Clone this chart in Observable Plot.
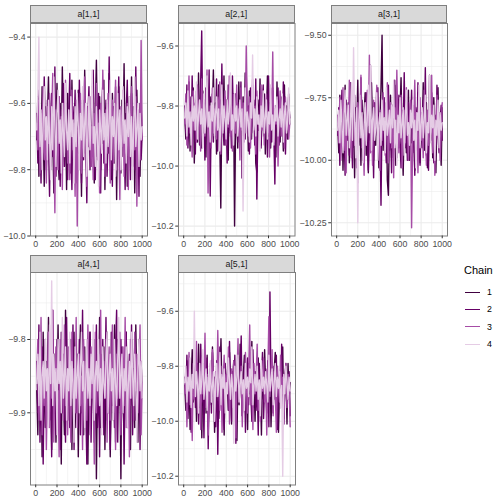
<!DOCTYPE html>
<html>
<head>
<meta charset="utf-8">
<script src="https://cdn.jsdelivr.net/npm/d3@7"></script>
<script src="https://cdn.jsdelivr.net/npm/@observablehq/plot@0.6"></script>
<style>
  body { margin: 0; background: #fff; }
  #chart { position: relative; width: 504px; height: 504px; background: #fff; overflow: hidden;
           font-family: "Liberation Sans", Arial, Helvetica, sans-serif; }
  #chart svg { position: absolute; max-width: none; }
  .strip { position: absolute; box-sizing: border-box; background: #d9d9d9; border: 1px solid #7f7f7f;
           color: #1a1a1a; font-size: 8.8px; text-align: center; }
  .legend-title { position: absolute; font-size: 11px; color: #000; }
  .legend-item { position: absolute; font-size: 8.8px; color: #000; display: flex; align-items: center; }
</style>
</head>
<body>
<div id="chart"></div>
<script>
// Posterior draws, thinned to every 10th iteration, for each parameter and chain.
const iterStep = 10;
const chainNames = ["1", "2", "3", "4"];
const chainColors = ["#400040", "#660066", "#a64ca6", "#e5cce5"];

const a11_chain1 = [-9.71,-9.58,-9.82,-9.66,-9.74,-9.55,-9.69,-9.85,-9.61,-9.77,-9.64,-9.52,-9.73,-9.80,-9.59,-9.70,-9.87,-9.62,-9.68,-9.54,-9.76,-9.83,-9.60,-9.72,-9.49,-9.67,-9.79,-9.63,-9.86,-9.57,-9.74,-9.65,-9.81,-9.53,-9.70,-9.78,-9.60,-9.69,-9.84,-9.56,-9.72,-9.63,-9.88,-9.59,-9.75,-9.50,-9.68,-9.82,-9.61,-9.73,-9.66,-9.79,-9.55,-9.71,-9.84,-9.62,-9.47,-9.69,-9.77,-9.58,-9.80,-9.64,-9.72,-9.53,-9.86,-9.67,-9.60,-9.75,-9.51,-9.70,-9.83,-9.57,-9.68,-9.78,-9.62,-9.89,-9.65,-9.55,-9.74,-9.81,-9.59,-9.70,-9.48,-9.76,-9.63,-9.85,-9.66,-9.58,-9.73,-9.52,-9.79,-9.61,-9.87,-9.69,-9.56,-9.74,-9.64,-9.82,-9.60,-9.71];
const a11_chain2 = [-9.63,-9.78,-9.56,-9.70,-9.84,-9.61,-9.75,-9.52,-9.67,-9.80,-9.59,-9.72,-9.88,-9.64,-9.57,-9.76,-9.69,-9.49,-9.82,-9.66,-9.73,-9.58,-9.85,-9.62,-9.71,-9.54,-9.79,-9.68,-9.60,-9.83,-9.65,-9.51,-9.74,-9.86,-9.61,-9.70,-9.56,-9.81,-9.67,-9.75,-9.53,-9.69,-9.84,-9.62,-9.77,-9.58,-9.72,-9.90,-9.64,-9.55,-9.80,-9.66,-9.73,-9.50,-9.69,-9.83,-9.60,-9.76,-9.57,-9.71,-9.87,-9.63,-9.54,-9.78,-9.68,-9.59,-9.82,-9.70,-9.46,-9.74,-9.65,-9.85,-9.61,-9.72,-9.55,-9.79,-9.67,-9.52,-9.81,-9.63,-9.76,-9.58,-9.70,-9.86,-9.62,-9.53,-9.75,-9.68,-9.83,-9.57,-9.71,-9.64,-9.80,-9.49,-9.73,-9.66,-9.88,-9.60,-9.77,-9.69];
const a11_chain3 = [-9.66,-9.74,-9.59,-9.81,-9.63,-9.70,-9.55,-9.77,-9.68,-9.84,-9.61,-9.72,-9.57,-9.79,-9.65,-9.51,-9.73,-9.93,-9.62,-9.69,-9.80,-9.58,-9.71,-9.64,-9.86,-9.60,-9.75,-9.53,-9.67,-9.78,-9.62,-9.83,-9.70,-9.56,-9.74,-9.66,-9.88,-9.59,-9.97,-9.68,-9.72,-9.57,-9.81,-9.64,-9.76,-9.52,-9.69,-9.85,-9.61,-9.73,-9.58,-9.79,-9.67,-9.83,-9.63,-9.71,-9.54,-9.77,-9.66,-9.87,-9.60,-9.74,-9.50,-9.69,-9.82,-9.62,-9.75,-9.57,-9.70,-9.84,-9.65,-9.59,-9.78,-9.68,-9.53,-9.80,-9.64,-9.72,-9.89,-9.61,-9.73,-9.56,-9.82,-9.67,-9.75,-9.60,-9.86,-9.63,-9.70,-9.55,-9.79,-9.66,-9.74,-9.58,-9.91,-9.68,-9.62,-9.77,-9.41,-9.71];
const a11_chain4 = [-9.68,-9.57,-9.40,-9.73,-9.62,-9.80,-9.66,-9.55,-9.71,-9.64,-9.77,-9.59,-9.70,-9.83,-9.61,-9.74,-9.52,-9.67,-9.79,-9.63,-9.56,-9.72,-9.65,-9.81,-9.60,-9.69,-9.76,-9.54,-9.68,-9.74,-9.62,-9.78,-9.58,-9.70,-9.65,-9.84,-9.61,-9.73,-9.57,-9.67,-9.80,-9.63,-9.71,-9.55,-9.76,-9.66,-9.60,-9.82,-9.69,-9.58,-9.74,-9.64,-9.50,-9.72,-9.67,-9.79,-9.61,-9.70,-9.85,-9.62,-9.68,-9.75,-9.56,-9.71,-9.63,-9.78,-9.59,-9.73,-9.66,-9.53,-9.77,-9.64,-9.70,-9.60,-9.82,-9.67,-9.57,-9.74,-9.62,-9.80,-9.69,-9.55,-9.72,-9.65,-9.78,-9.61,-9.70,-9.58,-9.76,-9.64,-9.83,-9.66,-9.52,-9.73,-9.68,-9.60,-9.79,-9.63,-9.71,-9.67];

const a21_chain1 = [-9.83,-9.91,-9.76,-9.88,-9.72,-9.95,-9.81,-9.87,-9.74,-9.99,-9.85,-9.78,-9.92,-9.69,-9.86,-9.80,-9.94,-9.75,-9.89,-9.83,-9.97,-9.71,-9.84,-9.90,-9.77,-9.93,-9.82,-9.68,-9.88,-9.79,-9.96,-9.84,-9.73,-9.91,-10.14,-9.81,-9.87,-9.70,-9.93,-9.78,-9.86,-9.98,-9.74,-9.89,-9.82,-9.92,-9.76,-10.20,-9.85,-9.79,-9.94,-9.72,-9.88,-9.83,-9.97,-9.77,-9.90,-9.69,-9.86,-9.81,-9.95,-9.75,-9.84,-9.91,-9.73,-9.87,-9.80,-9.99,-10.02,-9.78,-9.88,-9.71,-9.93,-9.82,-9.86,-9.76,-9.96,-9.84,-9.70,-9.90,-9.79,-9.94,-9.83,-9.74,-9.89,-9.81,-9.97,-9.72,-9.87,-9.85,-9.92,-9.77,-9.84,-9.95,-9.73,-9.88,-9.80,-9.91,-9.76,-9.86];
const a21_chain2 = [-9.80,-9.89,-9.73,-9.94,-9.84,-9.77,-9.91,-9.70,-9.86,-9.82,-9.96,-9.75,-9.88,-9.81,-9.93,-9.72,-9.55,-9.87,-9.79,-9.98,-9.74,-9.85,-9.90,-9.68,-10.10,-9.83,-9.76,-9.92,-9.80,-9.87,-9.71,-9.95,-9.84,-9.78,-9.89,-9.66,-9.86,-9.93,-9.77,-9.82,-9.99,-9.73,-9.88,-9.81,-9.94,-9.70,-9.85,-9.90,-9.76,-9.83,-9.92,-9.79,-9.87,-9.72,-10.04,-9.84,-9.77,-9.91,-9.69,-9.86,-9.80,-9.96,-9.74,-9.89,-9.83,-9.78,-9.93,-9.71,-10.11,-9.85,-9.88,-9.76,-9.94,-9.81,-9.73,-9.90,-9.84,-9.79,-9.97,-9.70,-9.86,-9.82,-9.92,-9.75,-9.89,-10.06,-9.80,-9.87,-9.74,-9.93,-9.83,-9.78,-9.90,-9.72,-9.85,-9.96,-9.81,-9.88,-9.77,-9.84];
const a21_chain3 = [-9.86,-9.76,-9.93,-9.81,-9.70,-9.89,-9.84,-9.97,-9.75,-9.88,-9.79,-9.92,-9.73,-9.85,-9.82,-9.95,-9.71,-9.87,-9.78,-9.90,-9.83,-9.68,-10.09,-9.86,-9.80,-9.94,-9.74,-9.89,-9.81,-9.85,-9.91,-9.77,-9.84,-9.72,-9.96,-9.79,-9.88,-9.83,-9.75,-9.93,-9.82,-9.87,-9.70,-9.90,-9.80,-9.95,-9.76,-9.84,-9.89,-9.73,-9.86,-9.81,-9.98,-9.74,-9.88,-9.79,-9.92,-9.85,-9.60,-9.83,-9.90,-9.77,-9.94,-9.82,-9.71,-9.87,-9.80,-9.96,-9.75,-9.86,-9.84,-9.91,-9.73,-9.88,-9.79,-9.93,-9.82,-9.76,-9.89,-9.85,-9.97,-9.74,-9.87,-9.62,-9.92,-9.81,-9.86,-9.78,-10.00,-9.83,-9.75,-9.90,-9.84,-9.80,-9.94,-9.77,-9.88,-9.82,-9.91,-9.86];
const a21_chain4 = [-9.84,-9.79,-9.90,-9.75,-9.87,-9.82,-9.93,-9.77,-9.85,-9.80,-9.88,-9.72,-9.91,-9.83,-9.78,-9.86,-9.81,-9.94,-9.76,-9.89,-9.84,-9.70,-9.87,-9.82,-9.92,-9.79,-9.85,-9.74,-9.90,-9.83,-9.77,-9.88,-9.81,-9.95,-9.86,-9.73,-9.89,-9.80,-9.84,-9.91,-9.78,-9.86,-9.82,-9.69,-9.88,-9.83,-9.93,-9.76,-9.85,-9.80,-9.90,-9.84,-9.78,-9.87,-9.81,-10.15,-9.86,-9.74,-9.89,-9.82,-9.85,-9.92,-9.79,-9.84,-9.63,-9.88,-9.81,-9.90,-9.77,-9.86,-9.83,-9.95,-9.80,-9.87,-9.75,-9.89,-9.84,-9.78,-9.91,-9.82,-9.86,-9.73,-9.88,-9.83,-9.93,-9.80,-9.85,-9.77,-9.90,-9.84,-9.81,-9.87,-9.76,-9.92,-9.83,-9.79,-9.89,-9.85,-9.74,-9.86];

const a31_chain1 = [-9.86,-9.97,-9.74,-9.91,-9.80,-10.04,-9.83,-9.70,-9.93,-9.88,-9.77,-10.01,-9.85,-9.72,-9.95,-9.82,-10.07,-9.79,-9.89,-9.68,-9.94,-9.84,-10.02,-9.76,-9.90,-9.81,-9.73,-9.98,-9.87,-10.05,-9.78,-9.92,-9.69,-9.85,-10.00,-9.80,-9.94,-9.75,-9.88,-10.03,-9.83,-9.71,-9.50,-9.96,-9.82,-9.90,-9.77,-10.08,-10.14,-9.86,-9.74,-9.99,-9.84,-9.92,-9.70,-10.02,-9.87,-9.79,-9.95,-9.81,-9.67,-9.91,-10.06,-9.83,-9.76,-9.97,-9.88,-9.72,-10.00,-9.85,-9.93,-9.78,-9.89,-10.04,-9.80,-9.95,-9.73,-9.86,-10.01,-9.82,-9.90,-9.69,-9.96,-9.84,-9.77,-10.03,-9.88,-9.66,-9.92,-9.81,-9.99,-9.75,-9.87,-10.05,-9.83,-9.71,-9.94,-9.86,-10.02,-9.79];
const a31_chain2 = [-9.90,-9.79,-10.02,-9.84,-9.72,-9.95,-9.87,-10.06,-9.76,-9.92,-9.83,-9.98,-9.69,-9.88,-10.03,-9.81,-9.74,-9.96,-9.85,-10.09,-9.78,-9.91,-9.67,-9.87,-10.00,-9.82,-9.94,-9.73,-9.89,-10.04,-9.80,-9.62,-9.93,-9.86,-10.07,-9.77,-9.90,-9.84,-9.71,-9.97,-9.88,-10.18,-9.81,-9.94,-9.75,-9.89,-10.01,-9.83,-9.70,-9.96,-9.85,-10.05,-9.78,-9.91,-9.68,-9.87,-9.99,-9.82,-9.74,-9.93,-10.03,-9.80,-9.88,-9.65,-9.95,-9.84,-10.00,-9.77,-9.90,-9.86,-9.72,-9.97,-9.83,-10.06,-9.79,-9.92,-9.69,-9.88,-10.02,-9.81,-9.95,-9.76,-9.89,-9.63,-9.98,-9.85,-10.04,-9.80,-9.91,-9.73,-9.87,-10.01,-9.82,-9.94,-9.70,-9.89,-9.97,-9.84,-9.78,-9.92];
const a31_chain3 = [-9.82,-9.93,-9.75,-10.00,-9.86,-9.71,-9.96,-9.84,-10.05,-9.78,-9.90,-9.68,-9.87,-9.99,-9.81,-9.74,-9.94,-9.85,-10.03,-9.77,-9.91,-9.83,-9.66,-9.95,-9.88,-10.06,-9.79,-9.92,-9.72,-9.86,-9.58,-9.97,-9.84,-10.02,-9.76,-9.89,-9.81,-9.70,-9.94,-9.87,-10.04,-9.80,-9.92,-9.73,-9.85,-9.98,-9.83,-9.69,-10.01,-9.88,-9.77,-9.95,-9.84,-10.07,-9.79,-9.90,-9.64,-9.86,-9.97,-9.82,-9.74,-10.03,-9.89,-9.80,-9.93,-9.71,-9.87,-10.00,-9.83,-9.76,-10.27,-9.91,-9.85,-9.68,-9.96,-9.81,-10.05,-9.88,-9.75,-9.92,-9.84,-9.99,-9.72,-9.87,-10.02,-9.80,-9.94,-9.78,-9.89,-9.66,-9.97,-9.83,-10.06,-9.86,-9.74,-9.91,-9.81,-10.00,-9.88,-9.77];
const a31_chain4 = [-9.88,-9.80,-9.93,-9.76,-9.86,-9.97,-9.82,-9.72,-9.90,-9.84,-9.78,-9.95,-9.87,-9.69,-9.92,-9.55,-9.83,-9.99,-9.79,-10.25,-9.85,-9.74,-9.91,-9.81,-10.01,-9.86,-9.77,-9.94,-9.83,-9.70,-9.89,-9.62,-9.96,-9.84,-9.79,-9.92,-9.87,-9.73,-10.00,-9.85,-9.81,-9.94,-9.76,-9.88,-9.83,-9.97,-9.71,-9.90,-9.86,-9.80,-9.93,-9.78,-9.87,-9.68,-9.95,-9.84,-10.02,-9.82,-9.89,-9.75,-9.91,-9.86,-9.79,-9.98,-9.83,-9.72,-9.90,-9.85,-9.94,-9.80,-9.87,-9.76,-9.92,-9.84,-10.03,-9.81,-9.88,-9.70,-9.95,-9.86,-9.79,-9.91,-9.83,-9.74,-9.97,-9.85,-9.89,-9.66,-9.93,-9.82,-9.87,-9.78,-10.00,-9.84,-9.90,-9.76,-9.95,-9.81,-9.88,-9.85];

const a41_chain1 = [-9.87,-9.93,-9.81,-9.90,-9.84,-9.96,-9.79,-9.88,-9.92,-9.83,-9.86,-9.77,-9.91,-9.85,-9.95,-9.80,-9.89,-9.82,-9.94,-9.87,-9.78,-9.90,-9.84,-9.97,-9.81,-9.88,-9.93,-9.76,-9.86,-9.91,-9.83,-9.89,-9.80,-9.95,-9.85,-9.79,-9.92,-9.87,-9.82,-9.96,-9.84,-9.78,-9.90,-9.86,-9.93,-9.81,-9.88,-9.83,-9.97,-9.85,-9.79,-9.91,-9.87,-9.82,-9.94,-9.80,-9.99,-9.86,-9.89,-9.77,-9.92,-9.84,-9.88,-9.81,-9.95,-9.85,-9.79,-9.90,-9.83,-9.96,-9.87,-9.82,-9.91,-9.78,-9.94,-9.86,-9.80,-9.89,-9.84,-9.99,-9.81,-9.88,-9.93,-9.85,-9.79,-9.91,-9.86,-9.83,-9.95,-9.80,-9.89,-9.84,-9.92,-9.78,-9.87,-9.94,-9.82,-9.90,-9.85,-9.88];
const a41_chain2 = [-9.83,-9.90,-9.78,-9.94,-9.86,-9.81,-9.97,-9.85,-9.80,-9.92,-9.87,-9.79,-9.91,-9.84,-9.96,-9.76,-9.89,-9.83,-9.93,-9.80,-9.88,-9.85,-9.95,-9.79,-9.90,-9.82,-9.86,-9.94,-9.77,-9.89,-9.84,-9.92,-9.81,-9.87,-9.78,-9.95,-9.85,-9.90,-9.83,-9.88,-9.80,-9.93,-9.86,-9.76,-9.91,-9.84,-9.89,-9.97,-9.82,-9.87,-9.79,-9.94,-9.85,-9.81,-9.90,-9.86,-9.78,-9.92,-9.84,-9.96,-9.82,-9.88,-9.80,-9.93,-9.87,-9.77,-9.91,-9.85,-9.83,-9.95,-9.79,-9.89,-9.86,-9.92,-9.81,-9.76,-9.94,-9.84,-9.88,-9.80,-9.90,-9.83,-9.97,-9.85,-9.79,-9.92,-9.87,-9.82,-9.89,-9.78,-9.93,-9.86,-9.81,-9.91,-9.84,-9.88,-9.80,-9.95,-9.83,-9.87];
const a41_chain3 = [-9.85,-9.80,-9.91,-9.87,-9.77,-9.93,-9.84,-9.89,-9.82,-9.95,-9.86,-9.79,-9.92,-9.83,-9.88,-9.76,-9.94,-9.85,-9.81,-9.90,-9.87,-9.96,-9.80,-9.86,-9.83,-9.91,-9.78,-9.89,-9.85,-9.93,-9.81,-9.87,-9.94,-9.79,-9.88,-9.84,-9.90,-9.77,-9.92,-9.86,-9.82,-9.89,-9.85,-9.95,-9.80,-9.87,-9.83,-9.91,-9.78,-9.86,-9.93,-9.81,-9.88,-9.84,-9.97,-9.79,-9.90,-9.85,-9.82,-9.89,-9.76,-9.92,-9.86,-9.83,-9.88,-9.80,-9.94,-9.85,-9.81,-9.91,-9.87,-9.78,-9.90,-9.84,-9.95,-9.82,-9.88,-9.86,-9.79,-9.93,-9.85,-9.81,-9.89,-9.77,-9.92,-9.86,-9.83,-9.96,-9.80,-9.88,-9.84,-9.91,-9.79,-9.87,-9.82,-9.90,-9.85,-9.78,-9.93,-9.86];
const a41_chain4 = [-9.86,-9.82,-9.89,-9.79,-9.91,-9.85,-9.83,-9.88,-9.80,-9.87,-9.84,-9.92,-9.78,-9.86,-9.72,-9.89,-9.82,-9.87,-9.84,-9.93,-9.80,-9.86,-9.83,-9.90,-9.77,-9.88,-9.85,-9.81,-9.91,-9.84,-9.87,-9.79,-9.89,-9.83,-9.86,-9.94,-9.81,-9.88,-9.85,-9.82,-9.90,-9.84,-9.79,-9.87,-9.83,-9.92,-9.86,-9.80,-9.88,-9.84,-9.89,-9.82,-9.86,-9.78,-9.91,-9.85,-9.83,-9.87,-9.80,-9.89,-9.84,-9.93,-9.81,-9.86,-9.88,-9.83,-9.79,-9.90,-9.85,-9.82,-9.87,-9.84,-9.91,-9.80,-9.86,-9.89,-9.83,-9.77,-9.88,-9.85,-9.82,-9.90,-9.84,-9.87,-9.81,-9.92,-9.86,-9.83,-9.88,-9.79,-9.85,-9.89,-9.82,-9.86,-9.94,-9.84,-9.80,-9.87,-9.83,-9.88];

const a51_chain1 = [-9.87,-9.96,-9.78,-9.91,-9.82,-10.03,-9.85,-9.74,-9.93,-9.89,-9.80,-10.00,-9.86,-9.72,-9.95,-9.83,-10.06,-9.79,-9.90,-9.84,-9.97,-9.76,-10.02,-9.88,-9.81,-9.94,-9.73,-9.87,-10.04,-9.82,-9.91,-9.77,-9.99,-9.85,-9.70,-9.92,-9.86,-10.05,-9.80,-9.89,-9.83,-9.96,-9.75,-9.90,-10.01,-9.84,-9.78,-9.93,-9.87,-10.07,-9.81,-9.94,-9.72,-9.88,-9.98,-9.83,-9.76,-9.91,-9.85,-10.03,-9.79,-9.90,-9.86,-9.71,-9.95,-9.84,-10.00,-9.82,-9.89,-9.77,-9.93,-9.87,-10.05,-9.80,-9.92,-9.74,-9.88,-9.97,-9.83,-9.90,-9.78,-10.02,-9.86,-9.93,-9.81,-9.75,-9.96,-9.85,-10.04,-9.88,-9.82,-9.91,-9.73,-9.99,-9.87,-9.84,-10.01,-9.79,-9.92,-9.86];
const a51_chain2 = [-9.84,-9.92,-9.76,-9.99,-9.87,-9.81,-10.04,-9.83,-9.90,-9.74,-9.95,-9.86,-9.79,-10.01,-9.88,-9.72,-9.93,-9.85,-10.06,-9.80,-9.89,-9.77,-10.10,-9.86,-9.82,-9.97,-9.75,-9.91,-9.84,-10.02,-9.78,-10.12,-9.87,-9.73,-9.94,-9.83,-9.90,-10.03,-9.79,-9.88,-9.85,-9.96,-9.71,-9.89,-10.00,-9.82,-9.93,-9.76,-10.08,-9.86,-9.80,-9.92,-9.84,-9.69,-9.98,-9.87,-9.81,-10.04,-9.85,-9.77,-9.94,-9.83,-9.90,-10.00,-9.74,-9.88,-9.82,-9.96,-9.86,-10.05,-9.79,-9.91,-9.84,-9.75,-9.99,-9.87,-9.81,-9.93,-9.78,-10.02,-9.53,-9.89,-9.85,-9.97,-9.80,-9.92,-9.76,-10.03,-9.86,-9.83,-9.95,-9.72,-9.88,-10.01,-9.84,-9.79,-9.94,-9.87,-9.82,-9.98];
const a51_chain3 = [-9.90,-9.81,-10.02,-9.86,-9.75,-9.94,-9.88,-10.07,-9.79,-9.92,-9.84,-9.71,-9.97,-9.87,-9.82,-10.03,-9.77,-9.90,-9.85,-9.68,-9.95,-9.83,-10.05,-9.88,-9.79,-9.93,-9.74,-9.86,-10.00,-9.82,-9.91,-9.67,-9.87,-9.96,-9.80,-10.04,-9.85,-9.76,-9.92,-9.83,-9.89,-9.73,-10.01,-9.86,-9.81,-9.95,-9.78,-9.88,-10.06,-9.84,-9.70,-9.93,-9.87,-9.80,-10.02,-9.85,-9.91,-9.75,-9.88,-9.97,-9.82,-9.65,-9.94,-9.86,-10.03,-9.79,-9.90,-9.84,-9.72,-9.96,-9.87,-10.00,-9.81,-9.89,-9.77,-9.93,-9.85,-10.05,-9.83,-9.62,-9.91,-9.86,-9.74,-9.98,-9.82,-9.89,-10.04,-9.80,-9.87,-9.93,-9.76,-9.90,-9.84,-10.01,-9.86,-9.79,-9.95,-9.83,-9.88,-10.02];
const a51_chain4 = [-9.86,-9.80,-9.93,-9.84,-9.89,-9.77,-9.95,-9.83,-9.88,-9.60,-9.91,-9.82,-9.87,-9.97,-9.79,-9.90,-9.85,-9.74,-9.92,-9.86,-9.81,-9.96,-9.84,-9.89,-9.78,-9.93,-9.87,-9.82,-10.00,-9.85,-9.79,-9.91,-9.86,-9.75,-9.94,-9.83,-9.88,-9.81,-9.97,-9.86,-9.90,-9.77,-9.85,-9.92,-9.83,-9.88,-10.08,-9.80,-9.89,-9.84,-9.76,-9.93,-9.87,-9.82,-9.90,-9.85,-9.96,-9.79,-9.88,-9.84,-9.91,-9.81,-9.86,-9.73,-9.94,-9.87,-9.83,-9.89,-9.80,-9.92,-9.85,-9.98,-9.78,-9.88,-9.84,-9.90,-9.82,-9.87,-9.93,-9.76,-9.89,-9.85,-9.81,-9.94,-9.86,-9.79,-9.91,-9.84,-9.88,-9.82,-9.95,-9.87,-10.20,-9.83,-9.90,-9.80,-9.86,-9.92,-9.84,-9.89];

// Axis breaks for each panel (major ticks, minor grid lines, label format).
const xTicks = [0, 200, 400, 600, 800, 1000];
const xMinor = [100, 300, 500, 700, 900];

const parameters = [
  { name: "a[1,1]", chains: [a11_chain1, a11_chain2, a11_chain3, a11_chain4],
    yDomain: [-10.0, -9.359], yTicks: [-10.0, -9.8, -9.6, -9.4], yMinor: [-9.9, -9.7, -9.5], fmt: ".1f" },
  { name: "a[2,1]", chains: [a21_chain1, a21_chain2, a21_chain3, a21_chain4],
    yDomain: [-10.233, -9.525], yTicks: [-10.2, -10.0, -9.8, -9.6], yMinor: [-10.1, -9.9, -9.7], fmt: ".1f" },
  { name: "a[3,1]", chains: [a31_chain1, a31_chain2, a31_chain3, a31_chain4],
    yDomain: [-10.303, -9.453], yTicks: [-10.25, -10.0, -9.75, -9.5], yMinor: [-10.125, -9.875, -9.625], fmt: ".2f" },
  { name: "a[4,1]", chains: [a41_chain1, a41_chain2, a41_chain3, a41_chain4],
    yDomain: [-9.9985, -9.7086], yTicks: [-9.9, -9.8], yMinor: [-9.95, -9.85, -9.75], fmt: ".1f" },
  { name: "a[5,1]", chains: [a51_chain1, a51_chain2, a51_chain3, a51_chain4],
    yDomain: [-10.232, -9.459], yTicks: [-10.2, -10.0, -9.8, -9.6], yMinor: [-10.1, -9.9, -9.7, -9.5], fmt: ".1f" }
];

// Panel boxes in page pixels: [left, top, width, height]
const panelBoxes = [
  [30, 22.5, 117, 212.5],
  [178, 22.5, 116.5, 212.5],
  [331, 22.5, 116, 212.5],
  [30, 272, 117, 212.5],
  [178, 272, 117, 212.5]
];

const chart = document.getElementById("chart");
const ML = 40, MR = 6, MT = 2, MB = 22, stripH = 17.5;
const fontStack = "'Liberation Sans', Arial, Helvetica, sans-serif";

parameters.forEach((p, k) => {
  const [left, top, w, h] = panelBoxes[k];
  const rows = [];
  p.chains.forEach((vals, c) => {
    vals.forEach((v, i) => rows.push({ iter: (i + 1) * iterStep, value: v, chain: chainNames[c] }));
  });

  const svg = Plot.plot({
    width: w + ML + MR,
    height: h + MT + MB,
    marginLeft: ML, marginRight: MR, marginTop: MT, marginBottom: MB,
    style: { fontFamily: fontStack, fontSize: "8.8px", background: "transparent", overflow: "visible" },
    x: { domain: [-48.95, 1049.95] },
    y: { domain: p.yDomain },
    color: { type: "ordinal", domain: chainNames, range: chainColors },
    marks: [
      Plot.ruleX(xMinor, { stroke: "#ebebeb", strokeWidth: 0.55 }),
      Plot.ruleY(p.yMinor, { stroke: "#ebebeb", strokeWidth: 0.55 }),
      Plot.ruleX(xTicks, { stroke: "#ebebeb", strokeWidth: 1.1 }),
      Plot.ruleY(p.yTicks, { stroke: "#ebebeb", strokeWidth: 1.1 }),
      Plot.line(rows, { x: "iter", y: "value", z: "chain", stroke: "chain", strokeWidth: 1.4 }),
      Plot.frame({ stroke: "#7f7f7f", strokeWidth: 1 }),
      Plot.axisX({ ticks: xTicks, tickFormat: "d", tickSize: 2.75, tickPadding: 2.2,
                   stroke: "#333333", fill: "#4d4d4d", label: null }),
      Plot.axisY({ ticks: p.yTicks, tickFormat: p.fmt, tickSize: 2.75, tickPadding: 2.2,
                   stroke: "#333333", fill: "#4d4d4d", label: null })
    ]
  });
  svg.style.left = (left - ML) + "px";
  svg.style.top = (top - MT) + "px";
  chart.appendChild(svg);

  const strip = document.createElement("div");
  strip.className = "strip";
  strip.style.left = left + "px";
  strip.style.top = (top - stripH) + "px";
  strip.style.width = w + "px";
  strip.style.height = (stripH + 0.5) + "px";
  strip.style.lineHeight = (stripH - 1) + "px";
  strip.textContent = p.name;
  chart.appendChild(strip);
});

// Chain legend
const title = document.createElement("div");
title.className = "legend-title";
title.style.left = "464px";
title.style.top = "264px";
title.textContent = "Chain";
chart.appendChild(title);

chainNames.forEach((name, i) => {
  const item = document.createElement("div");
  item.className = "legend-item";
  item.style.left = "464px";
  item.style.top = (283.5 + i * 17.3) + "px";
  item.style.height = "17.3px";
  item.innerHTML = `<svg width="17" height="17" style="position:static"><line x1="1" x2="16" y1="8.5" y2="8.5" stroke="${chainColors[i]}" stroke-width="1"/></svg><span style="margin-left:6px">${name}</span>`;
  chart.appendChild(item);
});
</script>
</body>
</html>
